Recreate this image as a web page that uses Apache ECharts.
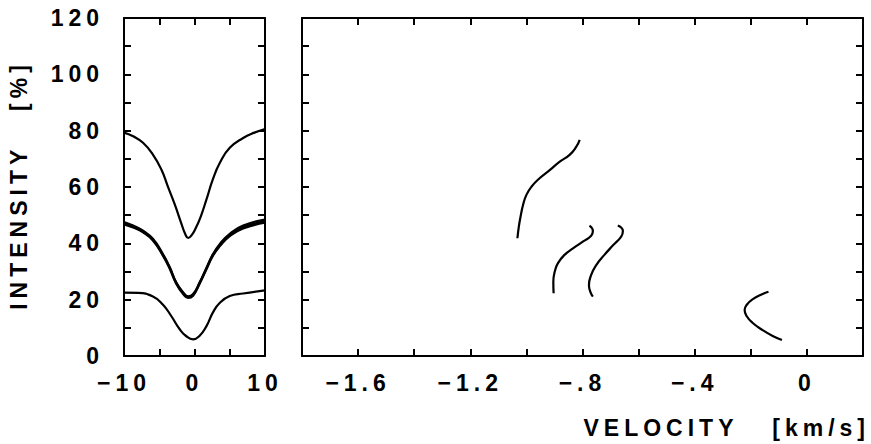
<!DOCTYPE html>
<html>
<head>
<meta charset="utf-8">
<script src="https://cdn.jsdelivr.net/npm/echarts@6/dist/echarts.min.js"></script>
<style>
  html, body { margin: 0; padding: 0; background: #fff; }
  #chart { width: 871px; height: 444px; }
  /* the original lettering is widely tracked */
  #chart text { letter-spacing: 5px; white-space: pre; }
</style>
</head>
<body>
<div id="chart"></div>
<script>
// line profiles, left panel: [x, intensity %]
const profileTop = [[-10, 79.3], [-8.7, 78.0], [-7.3, 75.7], [-5.9, 71.5], [-4.7, 66.2], [-3.8, 60.3], [-2.8, 53.8], [-1.9, 47.3], [-1.3, 43.2], [-0.9, 41.9], [-0.4, 42.9], [0.2, 45.5], [0.9, 49.6], [1.7, 55.6], [2.6, 62.7], [3.6, 68.6], [5.0, 73.9], [6.9, 77.4], [8.5, 79.3], [10, 80.6]];
const profileMid1 = [[-10, 47.6], [-8.7, 46.3], [-7.3, 44.5], [-5.9, 41.6], [-4.5, 36.3], [-3.5, 31.5], [-2.6, 26.2], [-1.6, 22.6], [-0.9, 21.2], [-0.2, 22.0], [0.7, 26.0], [1.7, 31.3], [2.6, 36.1], [3.6, 39.8], [5.0, 43.4], [6.9, 46.3], [10, 48.4]];
const profileMid2 = [[-10, 47.1], [-8.7, 46.0], [-7.3, 44.2], [-5.9, 41.3], [-4.5, 36.0], [-3.5, 31.2], [-2.6, 26.0], [-1.6, 22.3], [-0.9, 20.9], [-0.2, 21.7], [0.7, 25.8], [1.7, 31.1], [2.6, 35.8], [3.6, 39.4], [5.0, 43.0], [6.9, 45.8], [10, 47.8]];
const profileMid3 = [[-10, 46.7], [-8.7, 45.6], [-7.3, 43.9], [-5.9, 41.0], [-4.5, 35.7], [-3.5, 30.9], [-2.6, 25.7], [-1.6, 22.0], [-0.9, 20.6], [-0.2, 21.4], [0.7, 25.5], [1.7, 30.8], [2.6, 35.5], [3.6, 39.0], [5.0, 42.6], [6.9, 45.3], [10, 47.3]];
const profileBottom = [[-10, 22.5], [-8.0, 22.4], [-5.9, 21.1], [-4.5, 18.3], [-3.3, 14.2], [-2.1, 9.5], [-1.2, 7.1], [-0.2, 5.9], [0.7, 7.1], [1.7, 10.6], [2.6, 15.4], [3.6, 18.9], [5.0, 21.3], [6.9, 22.2], [10, 23.3]];

// bisectors, right panel: [velocity km/s, intensity %]
const bisectorA = [[-0.810, 76.7], [-0.822, 74.3], [-0.846, 71.4], [-0.881, 69.0], [-0.917, 66.0], [-0.953, 63.1], [-0.982, 60.1], [-1.000, 57.2], [-1.012, 53.6], [-1.021, 49.4], [-1.027, 45.9], [-1.032, 41.8]];
const bisectorB = [[-0.775, 46.3], [-0.763, 44.4], [-0.769, 42.7], [-0.799, 40.6], [-0.834, 38.2], [-0.864, 35.9], [-0.888, 32.9], [-0.899, 29.9], [-0.904, 26.4], [-0.903, 22.3]];
const bisectorC = [[-0.674, 46.3], [-0.656, 44.4], [-0.662, 42.4], [-0.692, 39.2], [-0.722, 35.9], [-0.751, 32.3], [-0.769, 28.8], [-0.777, 25.2], [-0.772, 22.8], [-0.763, 21.1]];
const bisectorD = [[-0.137, 22.8], [-0.158, 22.0], [-0.194, 20.1], [-0.215, 18.1], [-0.222, 16.3], [-0.215, 14.2], [-0.194, 11.8], [-0.158, 9.2], [-0.122, 7.1], [-0.089, 5.7]];

// tick labels
const yTickValues = [0, 20, 40, 60, 80, 100, 120];
const yTickLabels = ['0', '20', '40', '60', '80', '100', '120'];
const leftXTickValues = [-10, 0, 10];
const leftXTickLabels = ['\u221210', '0', '10'];
const rightXTickValues = [-1.6, -1.2, -0.8, -0.4, 0];
const rightXTickLabels = ['\u22121.6', '\u22121.2', '\u2212.8', '\u2212.4', '0'];

const FONT = 'Liberation Sans';

function pickLabel(values, labels) {
  return function (v) {
    const i = values.findIndex(t => Math.abs(t - v) < 1e-6);
    return i < 0 ? '' : labels[i];
  };
}

function frameAxis(extra) {
  return Object.assign({
    type: 'value',
    axisLine: { show: true, onZero: false, lineStyle: { color: '#000', width: 2 } },
    axisTick: { show: true, inside: true, length: 7, lineStyle: { color: '#000', width: 2 } },
    axisLabel: { show: false },
    splitLine: { show: false }
  }, extra);
}

const labelStyle = { color: '#000', fontFamily: FONT, fontWeight: 'bold', fontSize: 23 };

function curve(data, xi, yi) {
  return {
    type: 'line', data: data, xAxisIndex: xi, yAxisIndex: yi,
    showSymbol: false, smooth: true,
    lineStyle: { color: '#000', width: 2.2 }
  };
}

const chart = echarts.init(document.getElementById('chart'), null, { renderer: 'svg' });

const option = {
  animation: false,
  backgroundColor: '#fff',
  grid: [
    { left: 124, top: 18, width: 141, height: 338 },
    { left: 302, top: 18, width: 561, height: 338 }
  ],
  xAxis: [
    frameAxis({ gridIndex: 0, position: 'bottom', min: -10, max: 10, interval: 5,
      axisLabel: Object.assign({ show: true, margin: 15, formatter: pickLabel(leftXTickValues, leftXTickLabels) }, labelStyle) }),
    frameAxis({ gridIndex: 0, position: 'top', min: -10, max: 10, interval: 5 }),
    frameAxis({ gridIndex: 1, position: 'bottom', min: -1.8, max: 0.2, interval: 0.2,
      axisLabel: Object.assign({ show: true, margin: 15, formatter: pickLabel(rightXTickValues, rightXTickLabels) }, labelStyle) }),
    frameAxis({ gridIndex: 1, position: 'top', min: -1.8, max: 0.2, interval: 0.2 })
  ],
  yAxis: [
    frameAxis({ gridIndex: 0, position: 'left', min: 0, max: 120, interval: 10,
      axisLabel: Object.assign({ show: true, margin: 20, formatter: pickLabel(yTickValues, yTickLabels) }, labelStyle) }),
    frameAxis({ gridIndex: 0, position: 'right', min: 0, max: 120, interval: 10 }),
    frameAxis({ gridIndex: 1, position: 'left', min: 0, max: 120, interval: 10 }),
    frameAxis({ gridIndex: 1, position: 'right', min: 0, max: 120, interval: 10 })
  ],
  graphic: [
    {
      type: 'text', x: 19, y: 185, rotation: Math.PI / 2,
      style: { text: 'INTENSITY   [%]', align: 'center', verticalAlign: 'middle',
        fill: '#000', font: 'bold 23px "' + FONT + '"' }
    },
    {
      type: 'text', x: 870, y: 428,
      style: { text: 'VELOCITY   [km/s]', align: 'right', verticalAlign: 'middle',
        fill: '#000', font: 'bold 23px "' + FONT + '"' }
    }
  ],
  series: [
    curve(profileTop, 0, 0),
    curve(profileMid1, 0, 0),
    curve(profileMid2, 0, 0),
    curve(profileMid3, 0, 0),
    curve(profileBottom, 0, 0),
    curve(bisectorA, 2, 2),
    curve(bisectorB, 2, 2),
    curve(bisectorC, 2, 2),
    curve(bisectorD, 2, 2)
  ]
};

chart.setOption(option);
</script>
</body>
</html>
